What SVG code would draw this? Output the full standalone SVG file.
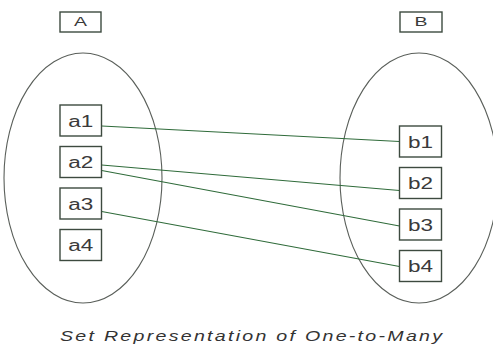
<svg xmlns="http://www.w3.org/2000/svg" width="493" height="345" viewBox="0 0 493 345">
  <style>
    .set { fill: none; stroke: #5a5f5a; stroke-width: 1.1; }
    .box { fill: #ffffff; stroke: #3d4a3f; stroke-width: 1.4; }
    .lbl { font-family: "Liberation Sans", Arial, sans-serif; font-size: 16px; fill: #3a3a3a; }
    .hdr { font-family: "Liberation Sans", Arial, sans-serif; font-size: 12.5px; fill: #3a3a3a; }
    .link { stroke: #2f6b3a; stroke-width: 1.1; fill: none; }
    .cap { font-family: "Liberation Sans", Arial, sans-serif; font-size: 14px; font-style: italic; fill: #333333; }
  </style>
  <rect width="493" height="345" fill="#ffffff"/>

  <!-- set outlines -->
  <ellipse class="set" cx="83" cy="178" rx="79" ry="125"/>
  <ellipse class="set" cx="419" cy="178" rx="79" ry="125"/>

  <!-- set headers -->
  <g id="setA">
    <rect class="box" x="60" y="12" width="41" height="20"/>
    <text class="hdr" x="74" y="26" textLength="13" lengthAdjust="spacingAndGlyphs">A</text>
  </g>
  <g id="setB">
    <rect class="box" x="400" y="12" width="42" height="20"/>
    <text class="hdr" x="414.5" y="26" textLength="13" lengthAdjust="spacingAndGlyphs">B</text>
  </g>

  <!-- connectors -->
  <g id="connectors">
    <line class="link" x1="101.7" y1="126" x2="399.5" y2="141.5"/>
    <line class="link" x1="101.7" y1="165" x2="399.5" y2="190.5"/>
    <line class="link" x1="101.7" y1="170.5" x2="399.5" y2="226"/>
    <line class="link" x1="101.7" y1="211.5" x2="399.5" y2="266.5"/>
  </g>

  <!-- elements of A -->
  <g id="a1">
    <rect class="box" x="60" y="105" width="41.5" height="31"/>
    <text class="lbl" x="68.3" y="126.5" textLength="25" lengthAdjust="spacingAndGlyphs">a1</text>
  </g>
  <g id="a2">
    <rect class="box" x="60" y="146.5" width="41.5" height="31"/>
    <text class="lbl" x="68.3" y="168" textLength="25" lengthAdjust="spacingAndGlyphs">a2</text>
  </g>
  <g id="a3">
    <rect class="box" x="60" y="188" width="41.5" height="31"/>
    <text class="lbl" x="68.3" y="209.5" textLength="25" lengthAdjust="spacingAndGlyphs">a3</text>
  </g>
  <g id="a4">
    <rect class="box" x="60" y="229.5" width="41.5" height="31"/>
    <text class="lbl" x="68.3" y="251" textLength="25" lengthAdjust="spacingAndGlyphs">a4</text>
  </g>

  <!-- elements of B -->
  <g id="b1">
    <rect class="box" x="399.5" y="126" width="42" height="31"/>
    <text class="lbl" x="408" y="147.5" textLength="25" lengthAdjust="spacingAndGlyphs">b1</text>
  </g>
  <g id="b2">
    <rect class="box" x="399.5" y="167.5" width="42" height="31"/>
    <text class="lbl" x="408" y="189" textLength="25" lengthAdjust="spacingAndGlyphs">b2</text>
  </g>
  <g id="b3">
    <rect class="box" x="399.5" y="209" width="42" height="31"/>
    <text class="lbl" x="408" y="230.5" textLength="25" lengthAdjust="spacingAndGlyphs">b3</text>
  </g>
  <g id="b4">
    <rect class="box" x="399.5" y="250.5" width="42" height="31"/>
    <text class="lbl" x="408" y="272" textLength="25" lengthAdjust="spacingAndGlyphs">b4</text>
  </g>

  <!-- caption -->
  <g transform="translate(60,341) scale(1.4,1)">
    <text class="cap" x="0" y="0" textLength="272.9" lengthAdjust="spacing">Set Representation of One-to-Many</text>
  </g>
</svg>
